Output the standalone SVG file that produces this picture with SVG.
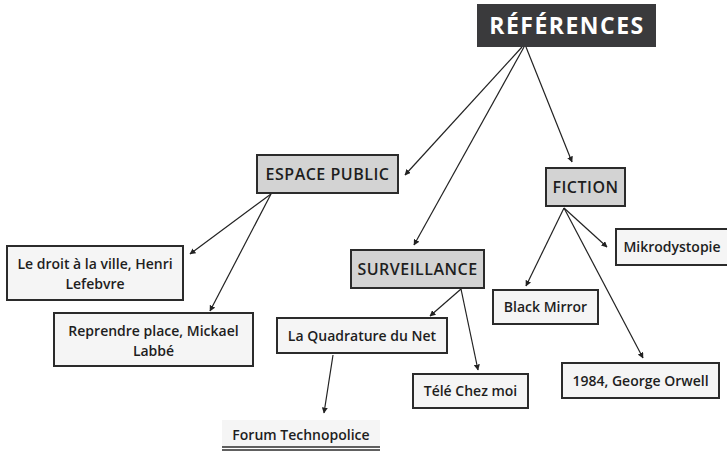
<svg xmlns="http://www.w3.org/2000/svg" width="727" height="452" viewBox="0 0 727 452">
<defs>
<marker id="ah" viewBox="0 0 10 10" refX="9" refY="5" markerWidth="6" markerHeight="6" markerUnits="userSpaceOnUse" orient="auto">
<path d="M0,0 L10,5 L0,10 z" fill="#222"/>
</marker>
<style>
.t{font-family:"Open Sans","Liberation Sans",sans-serif;fill:#1e1e1e;font-size:14px;font-weight:600;text-anchor:middle}
.h{font-family:"Open Sans","Liberation Sans",sans-serif;fill:#1e1e1e;font-size:16px;font-weight:600;letter-spacing:0.5px;text-anchor:middle}
.cat{fill:#d3d3d3;stroke:#2b2b2b;stroke-width:2}
.leaf{fill:#f5f5f5;stroke:#2b2b2b;stroke-width:2}
.c{stroke:#222;stroke-width:1.2;fill:none;marker-end:url(#ah)}
</style>
</defs>
<rect width="727" height="452" fill="#fff"/>
<g id="connectors">
<line class="c" x1="522" y1="47" x2="405" y2="175"/>
<line class="c" x1="524" y1="47" x2="414" y2="245"/>
<line class="c" x1="526" y1="47" x2="572" y2="162"/>
<line class="c" x1="271" y1="194" x2="190" y2="254"/>
<line class="c" x1="271" y1="194" x2="210" y2="311"/>
<line class="c" x1="461" y1="289" x2="430" y2="316"/>
<line class="c" x1="461" y1="289" x2="478" y2="370"/>
<line class="c" x1="333" y1="355" x2="324" y2="413"/>
<line class="c" x1="564" y1="208" x2="607" y2="247"/>
<line class="c" x1="564" y1="208" x2="526" y2="286"/>
<line class="c" x1="564" y1="208" x2="643" y2="358"/>
</g>
<g id="references">
<rect x="477" y="4" width="179" height="43" fill="#3a3a3c"/>
<text x="567" y="34" font-family="'Open Sans','Liberation Sans',sans-serif" font-size="23" font-weight="700" letter-spacing="1.5" fill="#fff" text-anchor="middle">RÉFÉRENCES</text>
</g>
<g id="espace-public">
<rect class="cat" x="257" y="155" width="141" height="38"/>
<text class="h" x="327.5" y="180">ESPACE PUBLIC</text>
</g>
<g id="fiction">
<rect class="cat" x="546" y="168" width="79" height="38"/>
<text class="h" x="585.5" y="193">FICTION</text>
</g>
<g id="surveillance">
<rect class="cat" x="351" y="250" width="133" height="38"/>
<text class="h" x="417.5" y="275">SURVEILLANCE</text>
</g>
<g id="droit-ville">
<rect class="leaf" x="7" y="246" width="176" height="54"/>
<text class="t" x="95" y="269">Le droit à la ville, Henri</text>
<text class="t" x="95" y="289">Lefebvre</text>
</g>
<g id="reprendre-place">
<rect class="leaf" x="54" y="313" width="199" height="53"/>
<text class="t" x="153.5" y="336">Reprendre place, Mickael</text>
<text class="t" x="153.5" y="356">Labbé</text>
</g>
<g id="quadrature">
<rect class="leaf" x="277" y="318" width="170" height="35"/>
<text class="t" x="362" y="341">La Quadrature du Net</text>
</g>
<g id="forum">
<rect x="222" y="420" width="158" height="27" fill="#f5f5f5"/>
<line x1="222" y1="447" x2="380" y2="447" stroke="#2b2b2b" stroke-width="1.5"/>
<line x1="222" y1="450" x2="380" y2="450" stroke="#2b2b2b" stroke-width="1.5"/>
<text class="t" x="301" y="440">Forum Technopolice</text>
</g>
<g id="tele">
<rect class="leaf" x="413" y="374" width="115" height="34"/>
<text class="t" x="470.5" y="396">Télé Chez moi</text>
</g>
<g id="black-mirror">
<rect class="leaf" x="493" y="290" width="105" height="34"/>
<text class="t" x="545.5" y="312">Black Mirror</text>
</g>
<g id="mikrodystopie">
<rect class="leaf" x="616" y="229" width="113" height="36"/>
<text class="t" x="672" y="252">Mikrodystopie</text>
</g>
<g id="orwell">
<rect class="leaf" x="562" y="363" width="157" height="35"/>
<text class="t" x="640.5" y="386">1984, George Orwell</text>
</g>
</svg>
